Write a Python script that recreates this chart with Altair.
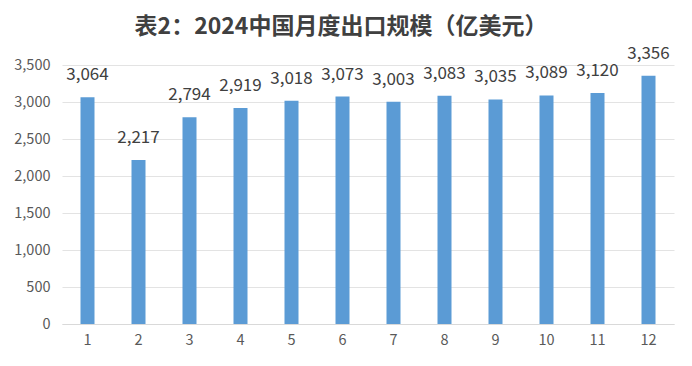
import altair as alt
import pandas as pd

months = [str(i) for i in range(1, 13)]
values = [3064, 2217, 2794, 2919, 3018, 3073, 3003, 3083, 3035, 3089, 3120, 3356]
y_ticks = [0, 500, 1000, 1500, 2000, 2500, 3000, 3500]

df = pd.DataFrame({"month": months, "value": values})

font = "Noto Sans CJK SC"
txt_color = "#595959"

base = alt.Chart(df).encode(
    x=alt.X("month:N", sort=months, title=None,
            scale=alt.Scale(paddingInner=0.72, paddingOuter=0.36),
            axis=alt.Axis(labelAngle=0, ticks=False, domainColor="#d9d9d9",
                          labelColor=txt_color, labelFontSize=14.5, labelFont=font,
                          labelPadding=9, grid=False)),
    y=alt.Y("value:Q", title=None,
            scale=alt.Scale(domain=[0, 3500], nice=False),
            axis=alt.Axis(values=y_ticks, format=",.0f", domain=False, ticks=False,
                          gridColor="#e3e3e3", labelColor=txt_color, labelFontSize=14.5,
                          labelFont=font, labelPadding=12)),
)

bars = base.mark_bar(color="#5B9BD5", size=14)
labels = base.mark_text(dy=-22, fontSize=17, font=font, color="#404040").encode(
    text=alt.Text("value:Q", format=",.0f")
)

chart = (bars + labels).properties(
    width=612, height=259,
    autosize=alt.AutoSizeParams(type="none"),
    padding={"left": 54, "top": 57, "right": 10, "bottom": 34},
    title=alt.TitleParams("表2：2024中国月度出口规模（亿美元）", font=font, fontSize=23,
                          fontWeight="bold", color="#404040", anchor="middle",
                          dx=-27, dy=10, offset=16),
).configure_view(stroke=None)

chart.save("out.html", embed_options={"renderer": "svg", "actions": False})
